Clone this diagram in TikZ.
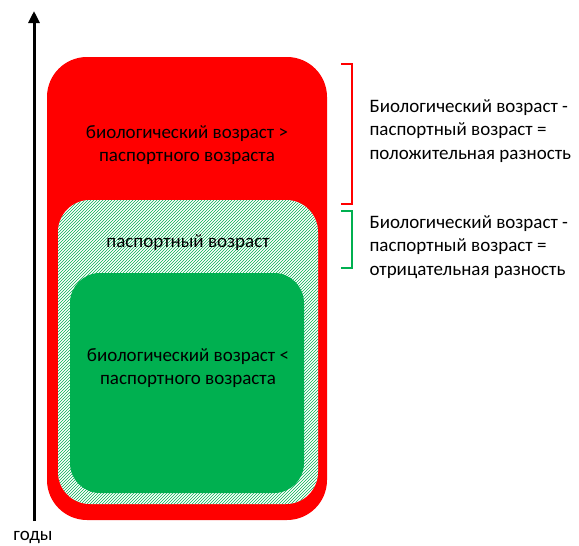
\documentclass[tikz,border=0pt]{standalone}
\usepackage{fontspec}
\setmainfont{Carlito}
\usepackage{xcolor}
\usepackage{tikz}
\usetikzlibrary{arrows.meta,patterns}

\definecolor{redbox}{HTML}{FF0000}
\definecolor{greenbox}{HTML}{00B050}

\tikzset{
  lbl/.style={align=center,font=\fontsize{19}{23.5}\selectfont},
  side/.style={align=left,anchor=west,font=\fontsize{19}{23.5}\selectfont},
  brace/.style={line width=2.5pt}
}

\begin{document}
\begin{tikzpicture}[x=1pt,y=-1pt]
\useasboundingbox (0,0) rectangle (579,546);

\fill[redbox, rounded corners=40pt] (47,57) rectangle (327,520);
\fill[white, rounded corners=32pt] (58,200) rectangle (318,504);
\fill[pattern=north east lines, pattern color=greenbox, rounded corners=32pt] (58,200) rectangle (318,504);
\fill[greenbox, rounded corners=30pt] (70,273) rectangle (304,493);

\node[lbl] (upper) at (187,145) {биологический возраст >\\паспортного возраста};
\node[lbl] (middle) at (188,243) {паспортный возраст};
\node[lbl] (lower) at (188,368) {биологический возраст <\\паспортного возраста};

% axis
\coordinate (axbot) at (34,521);
\coordinate (axtop) at (34,11);
\draw[line width=3pt, -{Triangle[width=11pt,length=12pt]}] (axbot) -- (axtop);
\node[lbl] (years) at (33,537) {годы};

% brackets
\coordinate (rtop) at (341,64);
\coordinate (rbot) at (341,204);
\draw[brace, redbox] (rtop) -- ++(11,0) |- (rbot);
\coordinate (gtop) at (341,211);
\coordinate (gbot) at (341,268);
\draw[brace, greenbox] (gtop) -- ++(11,0) |- (gbot);

\node[side] (pos) at (366,131) {Биологический возраст -\\паспортный возраст =\\положительная разность};
\node[side] (neg) at (366,247) {Биологический возраст -\\паспортный возраст =\\отрицательная разность};
\end{tikzpicture}
\end{document}
